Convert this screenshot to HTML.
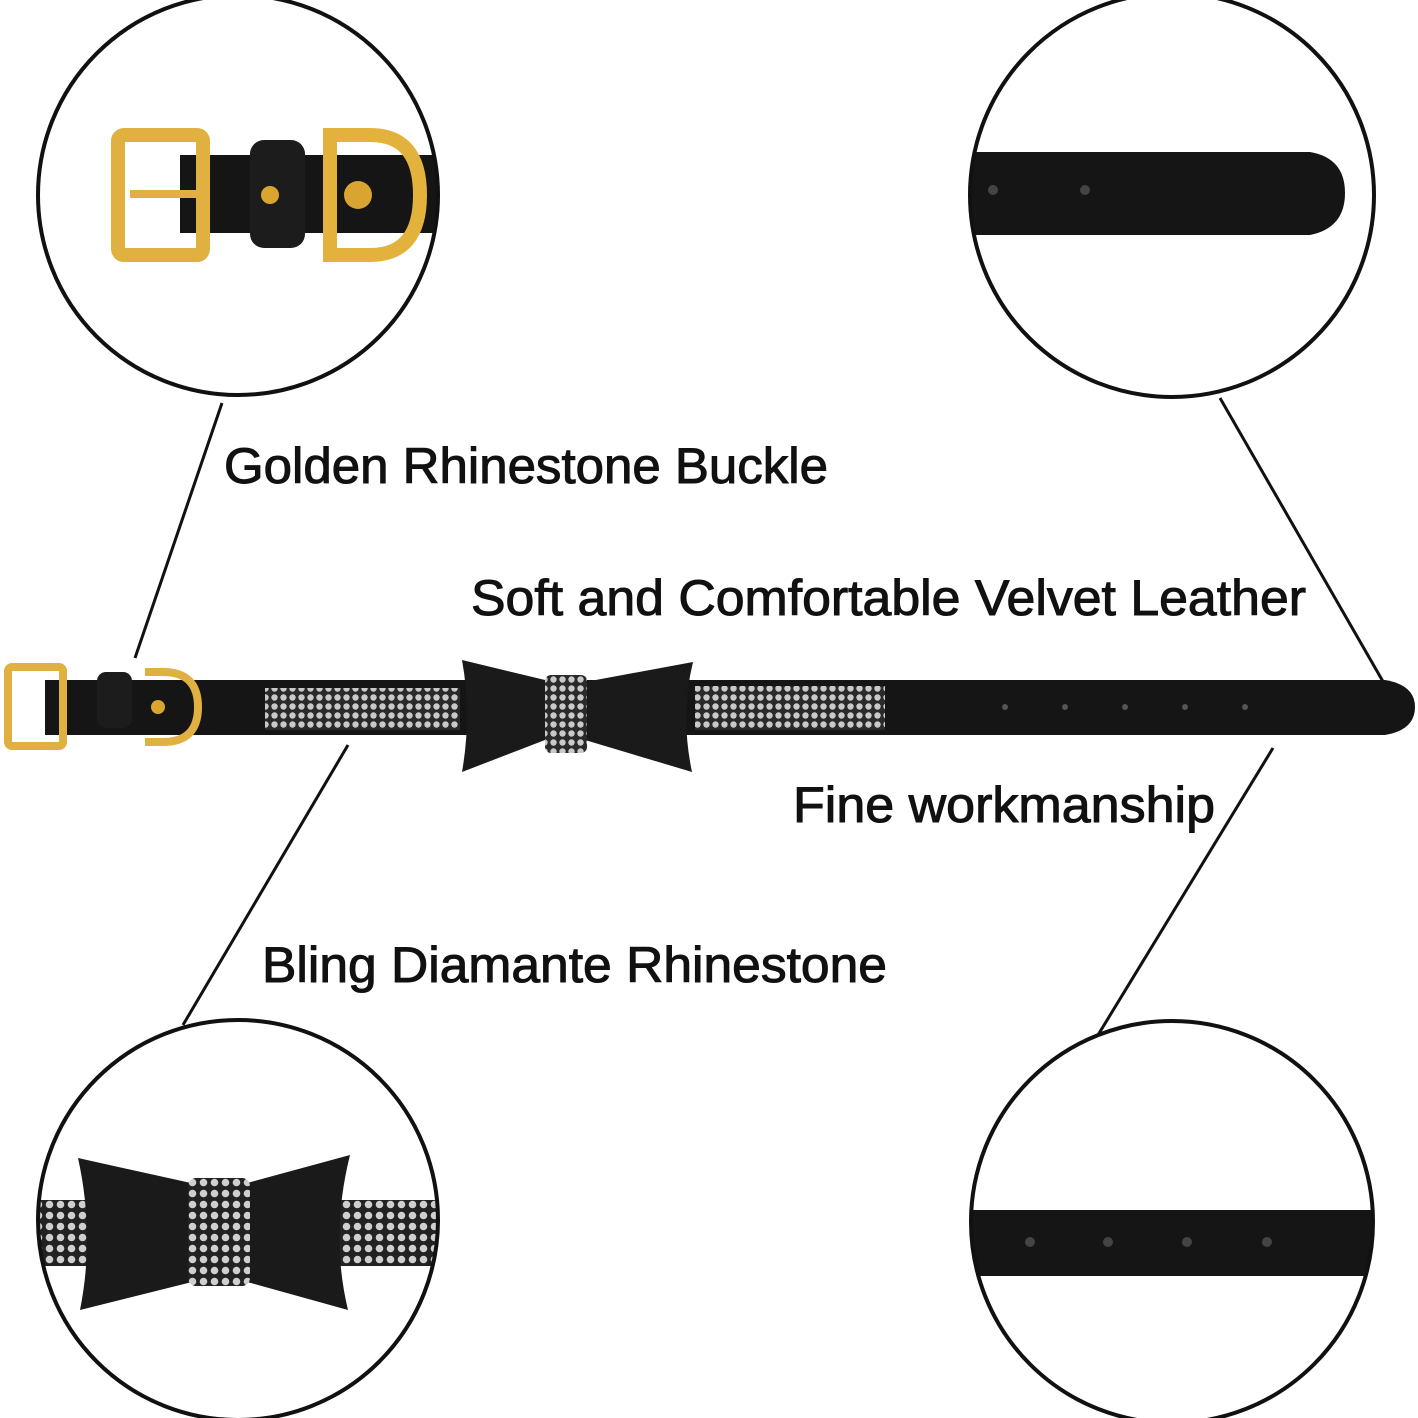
<!DOCTYPE html>
<html><head><meta charset="utf-8"><style>
html,body{margin:0;padding:0;background:#fff;}
svg{display:block;}
text{font-family:"Liberation Sans",sans-serif;fill:#111;stroke:#111;stroke-width:1;}
</style></head><body>
<svg width="1418" height="1418" viewBox="0 0 1418 1418" xmlns="http://www.w3.org/2000/svg">
<defs>
<pattern id="rs" width="9" height="9" patternUnits="userSpaceOnUse">
<rect width="9" height="9" fill="#2a2a2a"/>
<circle cx="4.5" cy="4.5" r="3.2" fill="#c9c9c9"/>
</pattern>
<pattern id="rsb" width="11" height="11" patternUnits="userSpaceOnUse">
<rect width="11" height="11" fill="#222"/>
<circle cx="5.5" cy="5.5" r="3.8" fill="#cfcfcf"/>
</pattern>
<clipPath id="c1"><circle cx="238" cy="195" r="200"/></clipPath>
<clipPath id="c2"><circle cx="1172" cy="195" r="202"/></clipPath>
<clipPath id="c3"><circle cx="238" cy="1220" r="200"/></clipPath>
<clipPath id="c4"><circle cx="1172" cy="1222" r="201"/></clipPath>
</defs>

<g stroke="#111" stroke-width="3" fill="none">
<line x1="222" y1="403" x2="135" y2="658"/>
<line x1="1220" y1="398" x2="1385" y2="685"/>
<line x1="348" y1="745" x2="183" y2="1025"/>
<line x1="1273" y1="748" x2="1098" y2="1035"/>
</g>

<g clip-path="url(#c1)">
<rect x="180" y="155" width="270" height="78" fill="#151515"/>
<rect x="250" y="140" width="55" height="108" rx="14" fill="#1c1c1c"/>
<circle cx="270" cy="195" r="9" fill="#d9a530"/>
<path d="M330 135 h40 q50 0 50 60 q0 60 -50 60 h-40 z" fill="none" stroke="#e3b23c" stroke-width="14"/>
<circle cx="358" cy="195" r="14" fill="#d9a530"/>
<rect x="118" y="135" width="85" height="120" rx="6" fill="none" stroke="#e0b040" stroke-width="14"/>
<rect x="130" y="190" width="70" height="8" fill="#e0b040"/>
</g>
<circle cx="238" cy="195" r="200" fill="none" stroke="#111" stroke-width="4"/>

<g clip-path="url(#c2)">
<path d="M960 152 H1310 Q1345 158 1345 193 Q1345 228 1310 235 H960 Z" fill="#151515"/>
<circle cx="993" cy="190" r="5" fill="#444"/>
<circle cx="1085" cy="190" r="5" fill="#444"/>
</g>
<circle cx="1172" cy="195" r="202" fill="none" stroke="#111" stroke-width="4"/>

<g clip-path="url(#c3)">
<rect x="30" y="1200" width="420" height="66" fill="url(#rsb)"/>
<path d="M78 1158 L200 1185 L200 1280 L80 1310 Q95 1235 78 1158 Z" fill="#1a1a1a"/>
<path d="M350 1155 L240 1185 L240 1280 L348 1310 Q330 1235 350 1155 Z" fill="#1a1a1a"/>
<rect x="188" y="1178" width="62" height="108" rx="8" fill="url(#rsb)"/>
</g>
<circle cx="238" cy="1220" r="200" fill="none" stroke="#111" stroke-width="4"/>

<g clip-path="url(#c4)">
<rect x="960" y="1210" width="430" height="66" fill="#151515"/>
<circle cx="1030" cy="1242" r="5" fill="#444"/>
<circle cx="1108" cy="1242" r="5" fill="#444"/>
<circle cx="1187" cy="1242" r="5" fill="#444"/>
<circle cx="1267" cy="1242" r="5" fill="#444"/>
</g>
<circle cx="1172" cy="1222" r="201" fill="none" stroke="#111" stroke-width="4"/>

<path d="M45 680 H1385 Q1415 685 1415 707 Q1415 730 1385 735 H45 Z" fill="#151515"/>
<rect x="265" y="688" width="195" height="42" fill="url(#rs)"/>
<rect x="695" y="686" width="190" height="44" fill="url(#rs)"/>
<g fill="#555"><circle cx="1005" cy="707" r="3"/><circle cx="1065" cy="707" r="3"/><circle cx="1125" cy="707" r="3"/><circle cx="1185" cy="707" r="3"/><circle cx="1245" cy="707" r="3"/></g>
<rect x="97" y="672" width="35" height="56" rx="9" fill="#1c1c1c"/>
<path d="M145 672 h18 q35 0 35 35 q0 35 -35 35 h-18" fill="none" stroke="#e0b040" stroke-width="8"/>
<circle cx="158" cy="707" r="7" fill="#d9a530"/>
<rect x="8" y="667" width="55" height="79" rx="4" fill="none" stroke="#e0b040" stroke-width="8"/>
<path d="M462 660 L545 680 L545 740 L462 772 Q472 715 462 660 Z" fill="#1a1a1a"/>
<path d="M693 662 L585 682 L585 740 L692 772 Q680 715 693 662 Z" fill="#1a1a1a"/>
<rect x="545" y="675" width="42" height="78" rx="6" fill="url(#rs)"/>

<text x="224" y="483" font-size="50" textLength="604" lengthAdjust="spacingAndGlyphs">Golden Rhinestone Buckle</text>
<text x="471" y="615" font-size="50" textLength="835" lengthAdjust="spacingAndGlyphs">Soft and Comfortable Velvet Leather</text>
<text x="793" y="822" font-size="50" textLength="422" lengthAdjust="spacingAndGlyphs">Fine workmanship</text>
<text x="262" y="982" font-size="50" textLength="625" lengthAdjust="spacingAndGlyphs">Bling Diamante Rhinestone</text>
</svg>
</body></html>
